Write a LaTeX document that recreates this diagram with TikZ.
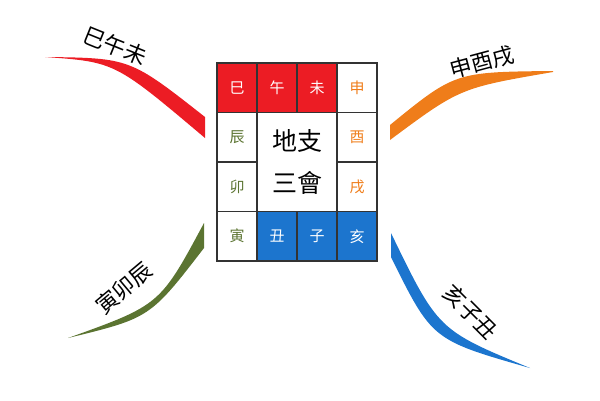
\documentclass[tikz,border=0pt]{standalone}
\usepackage{fontspec}
\newfontfamily\cjk{Noto Sans CJK TC}
\definecolor{firered}{HTML}{EC1C24}
\definecolor{metalorange}{HTML}{EF7D1A}
\definecolor{woodgreen}{HTML}{5B7431}
\definecolor{waterblue}{HTML}{1C75CE}
\begin{document}
\begin{tikzpicture}[x=1pt,y=-1pt,
	cell/.style={draw=black!80, line width=1.3pt, minimum width=40pt, minimum height=49.5pt, inner sep=0pt, font=\cjk\fontsize{15}{15}\selectfont},
	grouptext/.style={font=\cjk\fontsize{22}{22}\selectfont}]
		\useasboundingbox (0,0) rectangle (600,400);
		%ribbons
		\fill[firered] (45,57) .. controls (130,58) .. (205,117) -- (205,138) .. controls (115,62) .. (45,57) -- cycle;
		\fill[metalorange] (390,125) .. controls (455,72) .. (553,71) -- (553,72) .. controls (460,88) .. (390,140) -- cycle;
		\fill[woodgreen] (204,223) .. controls (160,305) .. (68,338) .. controls (150,318) .. (204,248) -- cycle;
		\fill[waterblue] (391,233) .. controls (438,330) .. (530,368) .. controls (432,340) .. (391,257) -- cycle;
		%group names
		\node[grouptext, rotate=-22] (fire) at (115,46) {巳午未};
		\node[grouptext, rotate=15] (metal) at (482,62) {申酉戌};
		\node[grouptext, rotate=40] (wood) at (124,288) {寅卯辰};
		\node[grouptext, rotate=-45] (water) at (471,312) {亥子丑};
		%center box
		\node[cell, minimum width=80pt, minimum height=99pt, align=center, font=\cjk\fontsize{25}{42}\selectfont] (center) at (297,162) {地支\\三會};
		%top row
		\node[cell, fill=firered, text=white] (si) at (237,87.75) {巳};
		\node[cell, fill=firered, text=white] (wu) at (277,87.75) {午};
		\node[cell, fill=firered, text=white] (wei) at (317,87.75) {未};
		\node[cell, text=metalorange] (shen) at (357,87.75) {申};
		%middle rows
		\node[cell, text=woodgreen] (chen) at (237,137.25) {辰};
		\node[cell, text=metalorange] (you) at (357,137.25) {酉};
		\node[cell, text=woodgreen] (mao) at (237,186.75) {卯};
		\node[cell, text=metalorange] (xu) at (357,186.75) {戌};
		%bottom row
		\node[cell, text=woodgreen] (yin) at (237,236.25) {寅};
		\node[cell, fill=waterblue, text=white] (chou) at (277,236.25) {丑};
		\node[cell, fill=waterblue, text=white] (zi) at (317,236.25) {子};
		\node[cell, fill=waterblue, text=white] (hai) at (357,236.25) {亥};
	\end{tikzpicture}
\end{document}
